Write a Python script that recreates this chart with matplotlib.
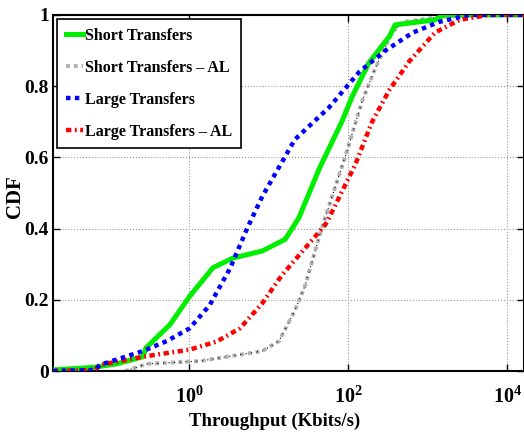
import matplotlib
matplotlib.use("Agg")
import matplotlib.pyplot as plt
from matplotlib.ticker import FixedLocator, FixedFormatter

plt.rcParams['font.family'] = ['Liberation Serif', 'DejaVu Serif']
plt.rcParams['font.weight'] = 'bold'
plt.rcParams['mathtext.fontset'] = 'custom'
plt.rcParams['mathtext.rm'] = 'Liberation Serif:bold'
plt.rcParams['mathtext.it'] = 'Liberation Serif:bold'
plt.rcParams['mathtext.bf'] = 'Liberation Serif:bold'

# Throughput (Kbits/s) and CDF values
short_x = [0.0195, 0.0617, 0.123, 0.263, 0.288, 0.575, 1.02, 2.0, 3.55, 8.32, 16.2,
           24.0, 43.7, 83.2, 112, 182, 331, 389, 646, 1230, 1620, 16200]
short_y = [0.003, 0.01, 0.02, 0.04, 0.065, 0.13, 0.21, 0.29, 0.317, 0.337, 0.37,
           0.43, 0.57, 0.70, 0.77, 0.865, 0.94, 0.972, 0.978, 0.986, 1.0, 1.0]

short_al_x = [0.158, 0.295, 1.38, 8.32, 13.5, 21.4, 28.8, 43.7, 51.3, 91.2, 151,
              219, 355, 479, 1510, 4570, 16200]
short_al_y = [0.0, 0.02, 0.028, 0.056, 0.084, 0.17, 0.24, 0.38, 0.43, 0.60, 0.76,
              0.85, 0.95, 0.98, 0.995, 1.0, 1.0]

large_x = [0.0195, 0.066, 0.0759, 0.263, 0.525, 1.02, 1.82, 3.31, 5.37, 8.32, 21.4,
           57.5, 138, 295, 646, 1380, 3310, 16200]
large_y = [0.0, 0.003, 0.017, 0.056, 0.084, 0.12, 0.185, 0.29, 0.40, 0.49, 0.65,
           0.74, 0.84, 0.90, 0.95, 0.98, 1.0, 1.0]

large_al_x = [0.0195, 0.066, 0.0759, 0.263, 1.02, 2.24, 4.37, 8.32, 14.8, 28.8, 51.3,
              57.5, 123, 200, 331, 589, 1230, 2510, 5890, 16200]
large_al_y = [0.0, 0.003, 0.017, 0.04, 0.06, 0.083, 0.12, 0.19, 0.27, 0.345, 0.41,
              0.43, 0.58, 0.70, 0.79, 0.87, 0.95, 0.986, 1.0, 1.0]

labels = ['Short Transfers', 'Short Transfers \u2013 AL', 'Large Transfers', 'Large Transfers \u2013 AL']
xticks = [1, 100, 10000]
xticklabels = ['$10^{0}$', '$10^{2}$', '$10^{4}$']
yticks = [0, 0.2, 0.4, 0.6, 0.8, 1.0]
yticklabels = ['0', '0.2', '0.4', '0.6', '0.8', '1']

fig = plt.figure(figsize=(5.24, 4.37), dpi=100)
ax = fig.add_axes([0.101, 0.151, 0.899, 0.815])

ax.plot(short_x, short_y, color='#00ee00', lw=3.6, ls='-', label=labels[0], zorder=3)
ax.plot(short_al_x, short_al_y, color='#b0b0b0', lw=2.8, ls=(0, (1, 1)), label=labels[1], zorder=2)
ax.plot(short_al_x, short_al_y, color='black', lw=0.8, ls=(0, (1, 4)), zorder=2)
ax.plot(large_x, large_y, color='#0000ff', lw=3.2, ls=(0, (1, 1)), label=labels[2], zorder=4)
ax.plot(large_al_x, large_al_y, color='#ff0000', lw=3.2, ls=(0, (1.2, 0.8, 0.4, 0.8)), label=labels[3], zorder=3)

ax.set_xscale('log')
ax.set_xlim(0.0195, 16200)
ax.set_ylim(0, 1)
ax.xaxis.set_major_locator(FixedLocator(xticks))
ax.xaxis.set_major_formatter(FixedFormatter(xticklabels))
ax.xaxis.set_minor_locator(FixedLocator([]))
ax.yaxis.set_major_locator(FixedLocator(yticks))
ax.yaxis.set_major_formatter(FixedFormatter(yticklabels))

ax.grid(True, which='major', ls=':', color='#999999', lw=0.8)
ax.tick_params(direction='in', top=True, right=True, length=5, width=1)
ax.tick_params(axis='y', labelsize=14, pad=3)
ax.tick_params(axis='x', labelsize=14.5, pad=11)
for s in ax.spines.values():
    s.set_linewidth(1.5)

ax.set_xlabel('Throughput (Kbits/s)', fontsize=13.5, fontweight='bold', va='top')
ax.xaxis.set_label_coords(0.471, -0.118)
ax.set_ylabel('CDF', fontsize=15, fontweight='bold')
ax.yaxis.set_label_coords(-0.059, 0.49)

leg = ax.legend(loc='upper left', fontsize=11.5, frameon=True, fancybox=False,
                edgecolor='black', framealpha=1, handlelength=1.1, handletextpad=0.1,
                borderpad=0.55, labelspacing=1.0, borderaxespad=0.25)
leg.get_frame().set_linewidth(1.2)

fig.savefig('out.png', dpi=100)
